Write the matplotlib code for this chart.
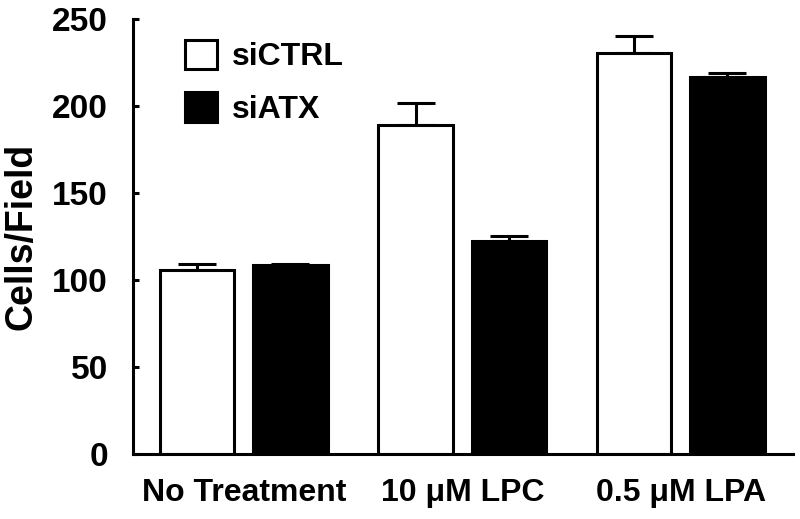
import numpy as np
import matplotlib.pyplot as plt

# ─────────────────────────────────────────────────────────────
# DATA
# ─────────────────────────────────────────────────────────────
CATEGORIES = ['No Treatment', '10 \u03bcM LPC', '0.5 \u03bcM LPA']
SERIES     = ['siCTRL', 'siATX']
CTRL_MEAN  = [105.7, 188.9, 230.3]
CTRL_ERR   = [3.3, 13.0, 9.9]
ATX_MEAN   = [108.4, 122.6, 216.5]
ATX_ERR    = [0.8, 2.7, 2.5]
Y_TICKS    = [0, 50, 100, 150, 200, 250]

plt.rcParams['font.family'] = ['Liberation Sans', 'DejaVu Sans']
plt.rcParams['font.weight'] = 'bold'

BAR_W  = 0.34
OFFSET = 0.2135
LW     = 2.2

fig = plt.figure(figsize=(8.0, 5.19), dpi=100)
ax = fig.add_axes([0.166, 0.1252, 0.825, 0.838])

x = np.arange(len(CATEGORIES))
b1 = ax.bar(x - OFFSET, CTRL_MEAN, BAR_W, color='white', edgecolor='black',
            linewidth=LW, label=SERIES[0], zorder=2)
b2 = ax.bar(x + OFFSET, ATX_MEAN, BAR_W, color='black', edgecolor='black',
            linewidth=LW, label=SERIES[1], zorder=2)

zeros = np.zeros(len(CATEGORIES))
ax.errorbar(x - OFFSET, CTRL_MEAN, yerr=[zeros, CTRL_ERR], fmt='none',
            ecolor='black', elinewidth=LW, capsize=13.7, capthick=LW, zorder=1)
ax.errorbar(x + OFFSET, ATX_MEAN, yerr=[zeros, ATX_ERR], fmt='none',
            ecolor='black', elinewidth=LW, capsize=13.7, capthick=LW, zorder=1)

ax.set_xlim(-0.508, 2.513)
ax.set_ylim(0, 250)
ax.set_yticks(Y_TICKS)
ax.set_xticks(x)
ax.set_xticklabels(CATEGORIES, fontsize=23, fontweight='bold')
ax.tick_params(axis='x', length=0, pad=17)
ax.tick_params(axis='y', direction='in', length=4, width=LW, pad=18,
               labelsize=24)
for lab in ax.get_yticklabels():
    lab.set_fontweight('bold')

ax.set_ylabel('Cells/Field', fontsize=27, fontweight='bold', labelpad=9)

for side in ['top', 'right']:
    ax.spines[side].set_visible(False)
for side in ['left', 'bottom']:
    ax.spines[side].set_linewidth(LW)

ax.legend(handles=[b1, b2], loc='upper left', bbox_to_anchor=(0.079, 0.953),
          frameon=False, handlelength=1.0, handleheight=1.05,
          handletextpad=0.47, labelspacing=0.62, borderpad=0, borderaxespad=0,
          prop={'weight': 'bold', 'size': 23})

fig.savefig('out.png', dpi=100)
